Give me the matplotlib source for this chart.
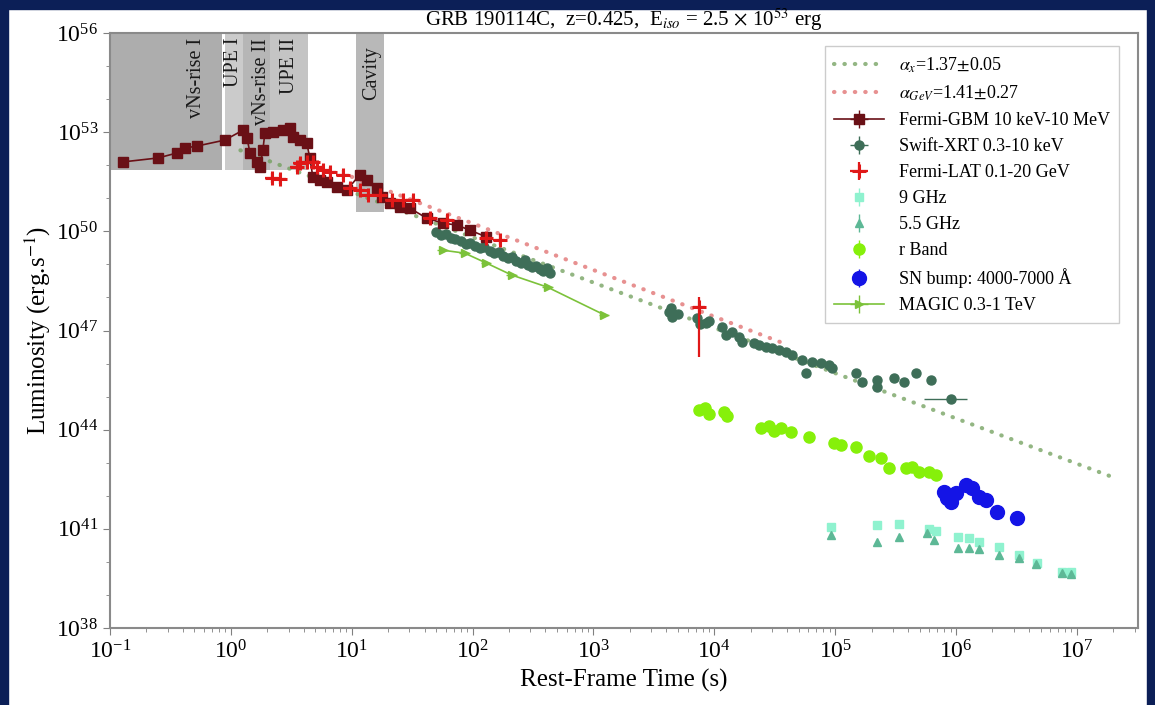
import numpy as np
import matplotlib.pyplot as plt
from matplotlib.patches import Rectangle
from matplotlib.ticker import LogLocator, FixedLocator, NullFormatter

plt.rcParams['font.family'] = ['Liberation Serif', 'DejaVu Serif']
plt.rcParams['mathtext.fontset'] = 'stix'

# ---- data (time in s, luminosity as log10 erg/s) ----
gbm_t = [0.128, 0.25, 0.358, 0.417, 0.524, 0.89, 1.26, 1.36, 1.44, 1.64, 1.74, 1.84, 1.91,
         2.22, 2.69, 3.08, 3.25, 3.72, 4.25, 4.5, 4.77, 5.45, 6.2, 7.5, 9.1, 11.6, 13.3,
         16.1, 17.7, 20.6, 24.9, 30.2, 41.7, 56.5, 73.8, 94.4, 130]
gbm_logL = [52.10, 52.22, 52.37, 52.52, 52.58, 52.76, 53.06, 52.82, 52.37, 52.10, 51.94, 52.46,
            52.97, 53.00, 53.06, 53.12, 52.85, 52.76, 52.67, 52.22, 51.64, 51.55, 51.49, 51.34,
            51.25, 51.70, 51.55, 51.31, 51.04, 50.86, 50.73, 50.70, 50.40, 50.25, 50.19, 50.04,
            49.83]

xrt_t = [50, 55, 60, 66, 72, 80, 88, 95, 105, 115, 125, 138, 150, 165, 180, 195, 210, 230,
         250, 270, 290, 310, 335, 360, 385, 410, 440,
         4200, 4420, 4500, 5000, 7240, 7600, 8590, 9000, 11640, 12560, 14100, 16110, 17020,
         21430, 23550, 26920, 30130, 34430, 39360, 44160, 53330, 57540, 64570, 76560, 89130,
         94410, 149300, 167100, 222300, 222300, 307600, 371500, 466700, 620900, 910000]
xrt_logL = [49.98, 49.90, 49.92, 49.80, 49.78, 49.72, 49.62, 49.66, 49.55, 49.50, 49.52, 49.40,
            49.35, 49.38, 49.25, 49.18, 49.22, 49.10, 49.05, 49.12, 48.98, 48.92, 48.95, 48.85,
            48.80, 48.88, 48.75,
            47.55, 47.68, 47.41, 47.50, 47.38, 47.20, 47.23, 47.30, 47.10, 46.86, 46.95, 46.80,
            46.65, 46.62, 46.56, 46.50, 46.47, 46.41, 46.35, 46.26, 46.11, 45.71, 46.05, 46.02,
            45.96, 45.86, 45.71, 45.44, 45.50, 45.29, 45.56, 45.44, 45.71, 45.50, 44.93]
xrt_last_tlo, xrt_last_thi = 544500, 1233000

lat_t = [2.18, 2.54, 3.51, 3.72, 4.25, 4.77, 5.14, 5.76, 6.58, 8.43, 9.6, 11.6, 13.6, 17.0,
         21.4, 26.4, 31.9, 44.2, 61, 130, 167, 7500]
lat_logL = [51.61, 51.58, 51.94, 52.07, 52.10, 52.10, 51.94, 51.85, 51.79, 51.70, 51.31, 51.25,
            51.10, 51.10, 50.95, 50.95, 50.95, 50.40, 50.33, 49.80, 49.74, 47.71]
lat_err_lo = [0.15] * 21 + [1.5]
lat_err_hi = [0.15] * 21 + [0.30]

radio9_t = [92680, 222300, 338100, 598400, 683900, 1.04e6, 1.28e6, 1.55e6, 2.26e6, 3.32e6,
            4.67e6, 7.52e6, 8.91e6]
radio9_logL = [41.06, 41.12, 41.15, 40.99, 40.93, 40.75, 40.72, 40.60, 40.45, 40.21, 39.97,
               39.69, 39.69]
radio55_t = [92680, 222300, 338100, 575400, 657700, 1.04e6, 1.28e6, 1.55e6, 2.26e6, 3.32e6,
             4.58e6, 7.52e6, 8.91e6]
radio55_logL = [40.81, 40.60, 40.75, 40.87, 40.66, 40.42, 40.42, 40.39, 40.21, 40.12, 39.94,
                39.66, 39.63]

rband_t = [7516, 8433, 9100, 12100, 12790, 24430, 28510, 31330, 35810, 43250, 60950, 98170,
           112200, 149300, 191000, 239900, 279300, 386400, 432500, 494300, 598400, 683900]
rband_logL = [44.59, 44.65, 44.47, 44.53, 44.41, 44.05, 44.11, 43.96, 44.05, 43.93, 43.78, 43.60,
              43.54, 43.48, 43.20, 43.14, 42.84, 42.84, 42.87, 42.72, 42.72, 42.63]

sn_t = [796200, 843300, 910000, 1.0e6, 1.21e6, 1.355e6, 1.549e6, 1.77e6, 2.183e6, 3.19e6]
sn_logL = [42.11, 41.93, 41.81, 42.08, 42.33, 42.23, 41.96, 41.87, 41.51, 41.33]

magic_t = [56.5, 86, 130, 210, 417, 1233]
magic_logL = [49.43, 49.34, 49.04, 48.68, 48.31, 47.47]

# power-law fits: log L = norm - alpha * log t
fit_x_alpha, fit_x_norm, fit_x_range = 1.37, 52.56, (1.2, 2.06e7)
fit_gev_alpha, fit_gev_norm, fit_gev_range = 1.41, 53.06, (10, 3.5e4)

# shaded episodes: (label, t_start, t_end, lower logL, colour, label x)
episodes = [("vNs-rise I", 0.1, 0.84, 51.85, '#adadad', 0.52),
            ("UPE I", 0.89, 1.26, 51.85, '#cbcbcb', 1.06),
            ("vNs-rise II", 1.26, 2.1, 51.85, '#b6b6b6', 1.80),
            ("UPE II", 2.1, 4.33, 51.85, '#c4c4c4', 3.07),
            ("Cavity", 10.8, 18.4, 50.58, '#b8b8b8', 14.6)]

fig = plt.figure(figsize=(11.55, 7.05), dpi=100)
fig.patch.set_facecolor('white')
navy = '#0c1f57'
fig.add_artist(Rectangle((0, 1 - 9 / 705), 1, 9 / 705, transform=fig.transFigure, color=navy, zorder=-5))
fig.add_artist(Rectangle((0, 0), 8 / 1155, 1, transform=fig.transFigure, color=navy, zorder=-5))
fig.add_artist(Rectangle((1 - 8 / 1155, 0), 8 / 1155, 1, transform=fig.transFigure, color=navy, zorder=-5))

ax = fig.add_axes([110 / 1155, 1 - 628 / 705, 1028 / 1155, 595 / 705])
ax.set_xscale('log')
ax.set_yscale('log')
ax.set_xlim(0.1, 3.2e7)
ax.set_ylim(1e38, 1e56)

for name, t0, t1, low, col, tx in episodes:
    ax.fill_between([t0, t1], 10 ** low, 1e56, color=col, lw=0, zorder=0)
    ax.text(tx, 10 ** 55.85 if name != "Cavity" else 10 ** 55.6, name, rotation=90,
            ha='center', va='top', fontsize=14.5, color='#1a1a1a', zorder=1)


def to_L(v):
    return 10 ** np.asarray(v, dtype=float)


def err_dex(logL, lo, hi):
    L = to_L(logL)
    return [L - L * 10 ** (-np.asarray(lo)), L * 10 ** np.asarray(hi) - L]


tx = np.logspace(np.log10(fit_x_range[0]), np.log10(fit_x_range[1]), 50)
ax.plot(tx, 10 ** fit_x_norm * tx ** -fit_x_alpha, color='#6f9e5a', lw=3, alpha=0.75,
        linestyle=(0, (0.1, 2.4)), dash_capstyle='round', zorder=2,
        label=r'$\alpha_x$=1.37$\pm$0.05')
tg = np.logspace(np.log10(fit_gev_range[0]), np.log10(fit_gev_range[1]), 50)
ax.plot(tg, 10 ** fit_gev_norm * tg ** -fit_gev_alpha, color='#e06c6c', lw=3, alpha=0.75,
        linestyle=(0, (0.1, 2.4)), dash_capstyle='round', zorder=2,
        label=r'$\alpha_{GeV}$=1.41$\pm$0.27')

gbm_t_arr = np.array(gbm_t)
ax.errorbar(gbm_t, to_L(gbm_logL), xerr=gbm_t_arr * 0.04, yerr=err_dex(gbm_logL, 0.05, 0.05),
            color='#6a1016', marker='s', ms=7, lw=1.2, elinewidth=1, zorder=5,
            label='Fermi-GBM 10 keV-10 MeV')

xrt_t_arr = np.array(xrt_t, dtype=float)
xrt_xlo = xrt_t_arr * 0.04
xrt_xhi = xrt_t_arr * 0.04
xrt_xlo[-1] = xrt_t[-1] - xrt_last_tlo
xrt_xhi[-1] = xrt_last_thi - xrt_t[-1]
ax.errorbar(xrt_t, to_L(xrt_logL), xerr=[xrt_xlo, xrt_xhi], yerr=err_dex(xrt_logL, 0.08, 0.08),
            color='#3e6e58', marker='o', ms=6.5, ls='none', elinewidth=1, zorder=4,
            label='Swift-XRT 0.3-10 keV')

lat_t_arr = np.array(lat_t)
ax.errorbar(lat_t, to_L(lat_logL), xerr=lat_t_arr * 0.12, yerr=err_dex(lat_logL, lat_err_lo, lat_err_hi),
            color='#e01818', marker='+', ms=10, mew=2.2, ls='none', elinewidth=1.6, zorder=6,
            label='Fermi-LAT 0.1-20 GeV')

ax.errorbar(radio9_t, to_L(radio9_logL), yerr=err_dex(radio9_logL, 0.06, 0.06),
            color='#8ff2cf', marker='s', ms=6, ls='none', elinewidth=1, zorder=4,
            label='9 GHz')
ax.errorbar(radio55_t, to_L(radio55_logL), yerr=err_dex(radio55_logL, 0.06, 0.06),
            color='#5db896', marker='^', ms=6, ls='none', elinewidth=1, zorder=4,
            label='5.5 GHz')
ax.errorbar(rband_t, to_L(rband_logL), yerr=err_dex(rband_logL, 0.05, 0.05),
            color='#86f00a', marker='o', ms=8, ls='none', elinewidth=1, zorder=4,
            label='r Band')
ax.errorbar(sn_t, to_L(sn_logL), yerr=err_dex(sn_logL, 0.05, 0.05),
            color='#1414e6', marker='o', ms=10, ls='none', elinewidth=1, zorder=4,
            label=u'SN bump: 4000-7000 \u00c5')
magic_t_arr = np.array(magic_t)
ax.errorbar(magic_t, to_L(magic_logL), xerr=magic_t_arr * 0.1, yerr=err_dex(magic_logL, 0.05, 0.05),
            color='#7cc23a', marker='>', ms=6, lw=1.2, elinewidth=1, zorder=4,
            label='MAGIC 0.3-1 TeV')

ax.yaxis.set_major_locator(FixedLocator([10.0 ** k for k in range(38, 57, 3)]))
ax.yaxis.set_minor_locator(FixedLocator([10.0 ** k for k in range(38, 57)]))
ax.yaxis.set_minor_formatter(NullFormatter())
ax.xaxis.set_major_locator(FixedLocator([10.0 ** k for k in range(-1, 8)]))
ax.xaxis.set_minor_locator(LogLocator(base=10, subs=np.arange(2, 10), numticks=40))
ax.xaxis.set_minor_formatter(NullFormatter())
ax.tick_params(axis='both', which='major', labelsize=17, length=5, color='#808080')
ax.tick_params(axis='both', which='minor', length=3, color='#808080')
for s in ax.spines.values():
    s.set_color('#8a8a8a')
    s.set_linewidth(1.5)

ax.set_xlabel('Rest-Frame Time (s)', fontsize=18, labelpad=4)
ax.set_ylabel(r'Luminosity (erg.s$^{-1}$)', fontsize=18, labelpad=2)
ax.set_title(r'GRB 190114C,  z=0.425,  E$_{iso}$ = 2.5 $\times$ 10$^{53}$ erg', fontsize=15, pad=3)

leg = ax.legend(loc='upper right', fontsize=13, handlelength=2.8, borderpad=0.5, labelspacing=0.5,
                framealpha=1, edgecolor='#cccccc', fancybox=False, bbox_to_anchor=(0.99, 0.993))

plt.savefig('out.png', dpi=100, facecolor=fig.get_facecolor())
